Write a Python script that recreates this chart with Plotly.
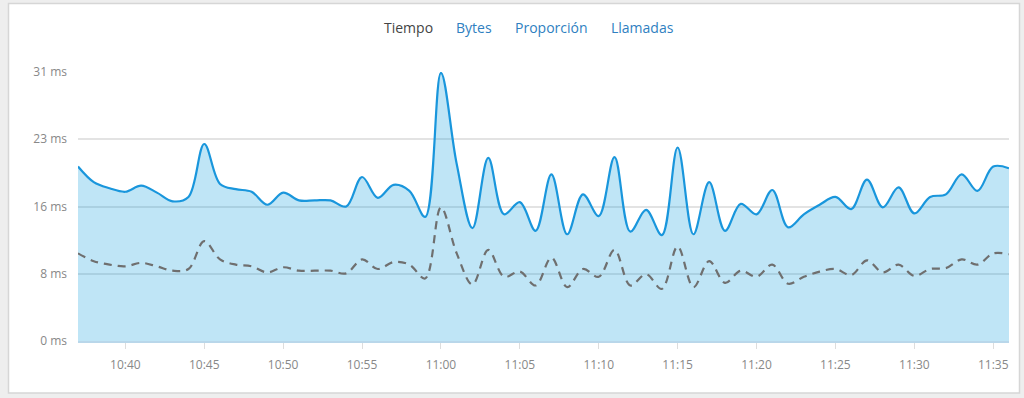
import pandas as pd
import plotly.graph_objects as go

times = pd.date_range("2024-01-01 10:37", periods=60, freq="1min")

tiempo = [20.1, 18.3, 17.6, 17.2, 17.9, 17.1, 16.1, 16.6, 22.7, 18.1,
          17.5, 17.2, 15.7, 17.1, 16.2, 16.2, 16.2, 15.5, 18.9, 16.5,
          18.0, 17.3, 14.3, 30.9, 20.4, 13.0, 21.1, 14.6, 16.0, 12.7,
          19.2, 12.3, 16.9, 14.4, 21.2, 12.6, 15.1, 12.2, 22.3, 12.3,
          18.3, 12.7, 15.8, 14.6, 17.4, 13.1, 14.6, 15.7, 16.6, 15.2,
          18.6, 15.4, 17.7, 14.7, 16.6, 16.9, 19.2, 17.3, 20.1, 19.9]

referencia = [10.1, 9.2, 8.8, 8.6, 9.0, 8.6, 8.1, 8.3, 11.5, 9.4,
              8.8, 8.6, 7.9, 8.5, 8.1, 8.1, 8.1, 7.8, 9.4, 8.3,
              9.1, 8.8, 7.2, 15.4, 10.1, 6.5, 10.5, 7.4, 8.0, 6.4,
              9.6, 6.2, 8.3, 7.4, 10.5, 6.4, 7.7, 6.0, 10.9, 6.2,
              9.2, 6.7, 8.1, 7.4, 8.8, 6.6, 7.4, 8.0, 8.3, 7.6,
              9.3, 7.9, 8.8, 7.5, 8.3, 8.4, 9.4, 8.8, 10.1, 10.0]

y_tickvals = [0, 7.75, 15.5, 23.25, 31]
y_ticktext = ["0 ms", "8 ms", "16 ms", "23 ms", "31 ms"]

tabs = ["Tiempo", "Bytes", "Proporción", "Llamadas"]
tab_x = [408, 474, 551, 642]

L, R, T, B = 78, 15, 72, 57
W, H = 1024, 398
PW, PH = W - L - R, H - T - B

fig = go.Figure()
fig.add_trace(go.Scatter(
    x=times, y=tiempo, mode="lines",
    line=dict(color="#1996dc", width=2.2, shape="spline", smoothing=1.0),
    fill="tozeroy", fillcolor="rgba(0,150,220,0.25)",
    hoverinfo="skip", showlegend=False))
fig.add_trace(go.Scatter(
    x=times, y=referencia, mode="lines",
    line=dict(color="#6f6f6f", width=2.2, dash="8px,6px", shape="spline", smoothing=1.0),
    hoverinfo="skip", showlegend=False))

def px_x(p):
    return (p - L) / PW

def px_y(p):
    return (H - B - p) / PH

fig.add_shape(type="rect", xref="paper", yref="paper",
              x0=px_x(8.5), x1=px_x(1019.5), y0=px_y(393), y1=px_y(3.5),
              fillcolor="white", line=dict(color="#d6d6d6", width=1.5), layer="below")

for i, (t, xp) in enumerate(zip(tabs, tab_x)):
    fig.add_annotation(text=t, xref="paper", yref="paper",
                       x=px_x(xp), y=px_y(28), showarrow=False,
                       xanchor="center", yanchor="middle",
                       font=dict(family="Open Sans", size=14,
                                 color="#444444" if i == 0 else "#2f7fc1"))

fig.update_layout(
    width=W, height=H,
    margin=dict(l=L, r=R, t=T, b=B),
    paper_bgcolor="#eeeeee", plot_bgcolor="rgba(0,0,0,0)",
    font=dict(family="Open Sans", size=12, color="#888888"),
    xaxis=dict(
        range=[times[0], times[-1]],
        tickformat="%H:%M", dtick=5 * 60 * 1000,
        tick0="2024-01-01 10:40",
        showgrid=False, zeroline=False,
        showline=True, linecolor="#b9d7ea", linewidth=1.5,
        ticks="outside", ticklen=6, tickcolor="#dddddd",
        tickfont=dict(size=12, color="#888888"),
        ticklabelstandoff=6,
    ),
    yaxis=dict(
        range=[0, 31], tickvals=y_tickvals, ticktext=y_ticktext,
        showgrid=True, gridcolor="#e3e3e3", gridwidth=1.5,
        zeroline=False, ticks="", showline=False,
        tickfont=dict(size=12, color="#888888"),
        ticklabelstandoff=10,
    ),
)

fig.write_html("out.html",
               config={"displayModeBar": False},
               post_script="document.body.style.margin='0';document.body.style.overflow='hidden';")
